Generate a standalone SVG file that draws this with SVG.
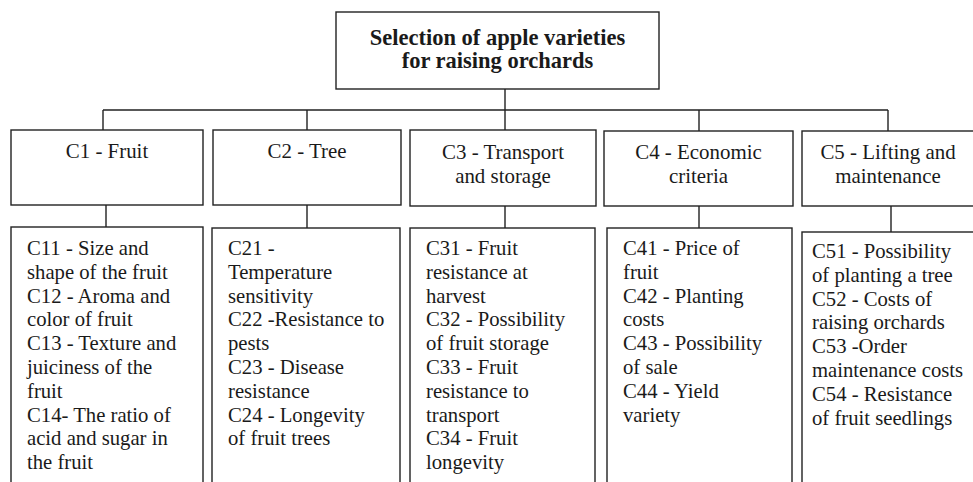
<svg xmlns="http://www.w3.org/2000/svg" width="973" height="482" viewBox="0 0 973 482">
<style>
.box{fill:#fff;stroke:#222;stroke-width:1.4}
.ln{fill:none;stroke:#222;stroke-width:1.4}
.t{font-family:"Liberation Serif","Times New Roman",serif;fill:#1a1a1a}
.title{font-size:22.5px;font-weight:bold;text-anchor:middle}
.h{font-size:20.9px;text-anchor:middle}
.b{font-size:20.7px}
</style>
<rect width="973" height="482" fill="#fff"/>
<g id="connectors">
<path class="ln" d="M505,89V130M103,110H888M103,110V130M307,110V130M699,110V131M888,110V131"/>
<path class="ln" d="M106,205V227M307,205V228M505,206V228M699,206V228M891,206V232"/>
</g>
<g id="root">
<rect class="box" x="336" y="12" width="323" height="77"/>
<text class="t title"><tspan x="497.5" y="45">Selection of apple varieties</tspan><tspan x="497.5" y="68">for raising orchards</tspan></text>
</g>
<g id="c1">
<rect class="box" x="11" y="130" width="192" height="75"/>
<text class="t h" x="107" y="158">C1 - Fruit</text>
</g>
<g id="c2">
<rect class="box" x="213" y="130" width="188" height="75"/>
<text class="t h" x="307" y="158">C2 - Tree</text>
</g>
<g id="c3">
<rect class="box" x="410" y="130" width="186" height="76"/>
<text class="t h"><tspan x="503" y="159">C3 - Transport</tspan><tspan x="503" y="183">and storage</tspan></text>
</g>
<g id="c4">
<rect class="box" x="604" y="131" width="189" height="75"/>
<text class="t h"><tspan x="698.5" y="159">C4 - Economic</tspan><tspan x="698.5" y="183">criteria</tspan></text>
</g>
<g id="c5">
<rect class="box" x="802" y="131" width="200" height="75"/>
<text class="t h"><tspan x="888" y="159">C5 - Lifting and</tspan><tspan x="888" y="183">maintenance</tspan></text>
</g>
<g id="c1-sub">
<rect class="box" x="11" y="227" width="192" height="280"/>
<text class="t b"><tspan x="27" y="255">C11 - Size and</tspan><tspan x="27" y="278.8">shape of the fruit</tspan><tspan x="27" y="302.6">C12 - Aroma and</tspan><tspan x="27" y="326.4">color of fruit</tspan><tspan x="27" y="350.2">C13 - Texture and</tspan><tspan x="27" y="374">juiciness of the</tspan><tspan x="27" y="397.8">fruit</tspan><tspan x="27" y="421.6">C14- The ratio of</tspan><tspan x="27" y="445.4">acid and sugar in</tspan><tspan x="27" y="469.2">the fruit</tspan></text>
</g>
<g id="c2-sub">
<rect class="box" x="212" y="228" width="188" height="280"/>
<text class="t b"><tspan x="228" y="255">C21 -</tspan><tspan x="228" y="278.8">Temperature</tspan><tspan x="228" y="302.6">sensitivity</tspan><tspan x="228" y="326.4">C22 -Resistance to</tspan><tspan x="228" y="350.2">pests</tspan><tspan x="228" y="374">C23 - Disease</tspan><tspan x="228" y="397.8">resistance</tspan><tspan x="228" y="421.6">C24 - Longevity</tspan><tspan x="228" y="445.4">of fruit trees</tspan></text>
</g>
<g id="c3-sub">
<rect class="box" x="410" y="228" width="185" height="280"/>
<text class="t b"><tspan x="426" y="255">C31 - Fruit</tspan><tspan x="426" y="278.8">resistance at</tspan><tspan x="426" y="302.6">harvest</tspan><tspan x="426" y="326.4">C32 - Possibility</tspan><tspan x="426" y="350.2">of fruit storage</tspan><tspan x="426" y="374">C33 - Fruit</tspan><tspan x="426" y="397.8">resistance to</tspan><tspan x="426" y="421.6">transport</tspan><tspan x="426" y="445.4">C34 - Fruit</tspan><tspan x="426" y="469.2">longevity</tspan></text>
</g>
<g id="c4-sub">
<rect class="box" x="607" y="228" width="185" height="280"/>
<text class="t b"><tspan x="623" y="255">C41 - Price of</tspan><tspan x="623" y="278.8">fruit</tspan><tspan x="623" y="302.6">C42 - Planting</tspan><tspan x="623" y="326.4">costs</tspan><tspan x="623" y="350.2">C43 - Possibility</tspan><tspan x="623" y="374">of sale</tspan><tspan x="623" y="397.8">C44 - Yield</tspan><tspan x="623" y="421.6">variety</tspan></text>
</g>
<g id="c5-sub">
<rect class="box" x="802" y="232" width="200" height="280"/>
<text class="t b"><tspan x="812" y="258">C51 - Possibility</tspan><tspan x="812" y="281.8">of planting a tree</tspan><tspan x="812" y="305.6">C52 - Costs of</tspan><tspan x="812" y="329.4">raising orchards</tspan><tspan x="812" y="353.2">C53 -Order</tspan><tspan x="812" y="377">maintenance costs</tspan><tspan x="812" y="400.8">C54 - Resistance</tspan><tspan x="812" y="424.6">of fruit seedlings</tspan></text>
</g>
</svg>
